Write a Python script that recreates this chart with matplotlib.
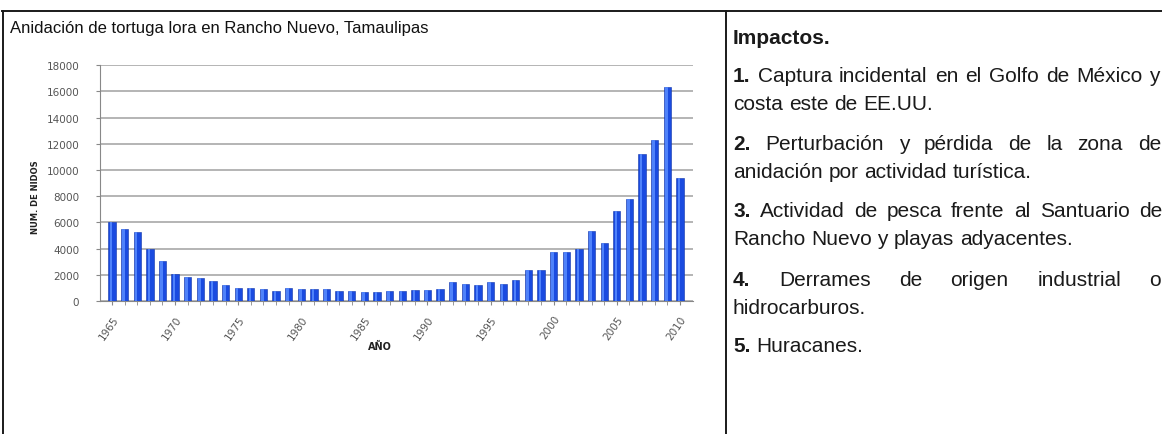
import matplotlib
matplotlib.use("Agg")
import matplotlib.pyplot as plt
import numpy as np
from matplotlib.lines import Line2D

# datos: anidación de tortuga lora, Rancho Nuevo
years = list(range(1965, 2011))
nests = [6050, 5500, 5250, 4000, 3050, 2050, 1850, 1750, 1550, 1200,
         1000, 1000, 950, 800, 1000, 900, 900, 900, 800, 800,
         700, 700, 800, 800, 850, 850, 900, 1450, 1300, 1200,
         1450, 1300, 1600, 2350, 2350, 3750, 3750, 3950, 5350, 4450,
         6850, 7800, 11200, 12300, 16300, 9400]
yticks = list(range(0, 18001, 2000))
xticks = list(range(1965, 2011, 5))

title = "Anidación de tortuga lora en Rancho Nuevo, Tamaulipas"
impact_head = "Impactos."
# (numero, texto, justificado?, y en px, borde derecho)
impact_lines = [
    ("1.", "Captura incidental en el Golfo de México y", True, 77, 1160),
    ("", "costa este de EE.UU.", False, 105, None),
    ("2.", "Perturbación y pérdida de la zona de", True, 145, 1161),
    ("", "anidación por actividad turística.", False, 173, None),
    ("3.", "Actividad de pesca frente al Santuario de", True, 212, 1162),
    ("", "Rancho Nuevo y playas adyacentes.", False, 240, None),
    ("4.", "Derrames de origen industrial o", True, 280, 1161),
    ("", "hidrocarburos.", False, 308, None),
    ("5.", "Huracanes.", False, 347, None),
]

W, H = 1162, 435
fig = plt.figure(figsize=(W / 100, H / 100), dpi=100)
fig.patch.set_facecolor("white")

def fx(px):
    return px / W

def fy(py):
    return 1 - py / H

FAM = ["Liberation Sans", "DejaVu Sans"]
TXT = dict(family=FAM, fontsize=15, color="#1a1a1a")

# --- tabla (bordes) ---
for (x0, y0, x1, y1) in [(2, 12, W, 12), (3, 12, 3, H), (726, 12, 726, H)]:
    fig.add_artist(Line2D([fx(x0), fx(x1)], [fy(y0), fy(y1)], color="#1a1a1a", lw=1.4))

fig.text(fx(10), fy(28), title, va="center", ha="left", family=FAM, fontsize=12, color="#111111")

# --- grafica ---
ax = fig.add_axes([fx(100), fy(302), fx(592.5), (302 - 66.2) / H])
yr = np.array(years)
ax.bar(yr, nests, width=0.58, color="#1a4be0", edgecolor="#0f34a8", linewidth=0.4, zorder=3)
ax.bar(yr - 0.08, nests, width=0.2, color="#4f82fa", linewidth=0, zorder=4)
ax.set_xlim(1964.05, 2011.0)
ax.set_ylim(0, 18000)
ax.set_yticks(yticks)
ax.set_yticklabels([str(v) for v in yticks], family="DejaVu Sans", fontsize=7.5, color="#555555")
ax.set_xticks(xticks)
ax.set_xticks(years, minor=True)
ax.set_xticklabels([str(v) for v in xticks], rotation=55, ha="right", rotation_mode="anchor",
                   family="DejaVu Sans", fontsize=7.5, color="#555555")
ax.tick_params(axis="y", length=3, pad=12, color="#888888")
ax.tick_params(axis="x", which="both", length=3, pad=6, color="#888888", direction="out")
ax.grid(axis="y", color="#a8a8a8", lw=1.2, zorder=0)
for s in ["top", "right"]:
    ax.spines[s].set_visible(False)
for s in ["left", "bottom"]:
    ax.spines[s].set_color("#888888")
ax.set_facecolor("white")

fig.text(fx(35), fy(197), "NUM. DE NIDOS", rotation=90, va="center", ha="center",
         family="DejaVu Sans", fontsize=6, fontweight="bold", color="#222222")
fig.text(fx(380), fy(347), "AÑO", va="center", ha="center",
         family="DejaVu Sans", fontsize=7, fontweight="bold", color="#222222")

# --- texto de impactos ---
fig.text(fx(733), fy(38), impact_head, va="center", ha="left", fontweight="bold", **TXT)

renderer = fig.canvas.get_renderer()

def text_width(s, **kw):
    t = fig.text(0, 0, s, **kw)
    w = t.get_window_extent(renderer).width
    t.remove()
    return w

space_w = text_width("a a", **TXT) - text_width("aa", **TXT)

x_left = 733
for num, body, justify, ypx, xr in impact_lines:
    words = ([num] if num else []) + body.split()
    bold = [bool(num) and i == 0 for i in range(len(words))]
    arts = []
    for w, b in zip(words, bold):
        t = fig.text(fx(x_left), fy(ypx), w, va="center", ha="left",
                     fontweight="bold" if b else "normal", **TXT)
        arts.append(t)
    widths = [a.get_window_extent(renderer).width for a in arts]
    if justify and len(words) > 1:
        gap = (xr - x_left - sum(widths)) / (len(words) - 1)
    else:
        gap = space_w
    x = x_left
    for a, w in zip(arts, widths):
        a.set_x(fx(x))
        x += w + gap

fig.savefig("out.png", dpi=100)
